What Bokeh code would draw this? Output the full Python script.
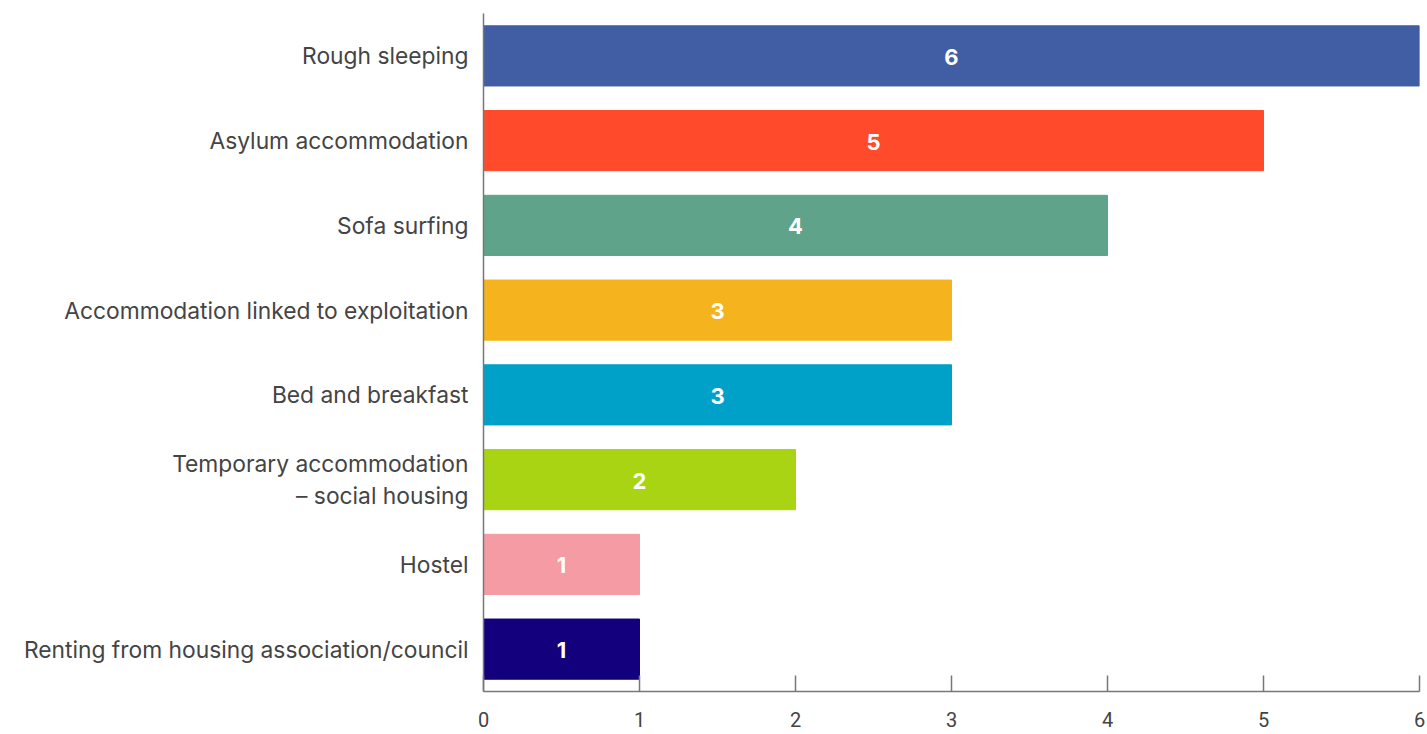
from bokeh.plotting import figure
from bokeh.models import Range1d, ColumnDataSource, FixedTicker
from bokeh.core.properties import value
from bokeh.embed import file_html
from bokeh.resources import INLINE

categories = [
    "Rough sleeping",
    "Asylum accommodation",
    "Sofa surfing",
    "Accommodation linked to exploitation",
    "Bed and breakfast",
    "Temporary accommodation\n\u2013 social housing",
    "Hostel",
    "Renting from housing association/council",
]
counts = [6, 5, 4, 3, 3, 2, 1, 1]
colors = ["#415EA5", "#FF4B2B", "#5FA38A", "#F5B41E", "#00A1C9", "#A8D414", "#F49BA4", "#13007C"]
x_ticks = [0, 1, 2, 3, 4, 5, 6]

source = ColumnDataSource(dict(
    cat=categories,
    count=counts,
    color=colors,
    mid=[c / 2 for c in counts],
    label=[str(c) for c in counts],
))

p = figure(
    width=1427, height=734,
    y_range=list(reversed(categories)),
    x_range=Range1d(0, 6),
    output_backend="svg", toolbar_location=None,
    min_border_left=483, min_border_right=8,
    min_border_top=13, min_border_bottom=43,
)
p.y_range.range_padding = 0

p.hbar(y="cat", right="count", left=0, height=0.71, color="color", source=source)
p.text(x="mid", y="cat", text="label", source=source, y_offset=1,
       text_color="white", text_font=value("Inter"), text_font_style="bold",
       text_font_size="22px", text_align="center", text_baseline="middle")

p.outline_line_color = None
p.grid.grid_line_color = None

xa = p.xaxis[0]
xa.ticker = FixedTicker(ticks=x_ticks)
xa.axis_line_color = "#777777"
xa.axis_line_width = 1.5
xa.major_tick_line_color = "#777777"
xa.major_tick_line_width = 1.5
xa.major_tick_in = 16
xa.major_tick_out = 0
xa.minor_tick_line_color = None
xa.major_label_standoff = 20
xa.major_label_text_font = "Roboto"
xa.major_label_text_font_size = "20px"
xa.major_label_text_color = "#444444"

ya = p.yaxis[0]
ya.axis_line_color = "#777777"
ya.axis_line_width = 1.5
ya.major_tick_line_color = None
ya.minor_tick_line_color = None
ya.major_label_standoff = 9
ya.major_label_text_font = "Inter"
ya.major_label_text_font_size = "22.8px"
ya.major_label_text_color = "#444444"

open("out.html", "w").write(file_html(p, INLINE))
